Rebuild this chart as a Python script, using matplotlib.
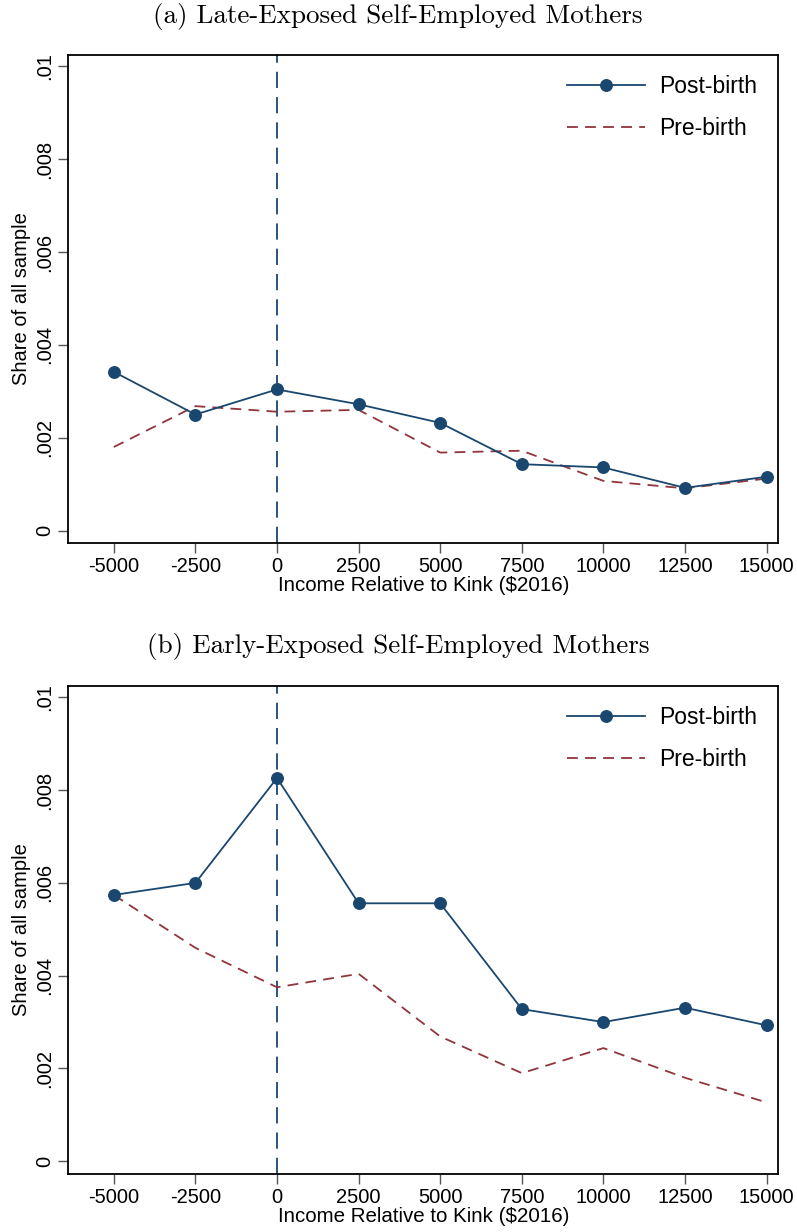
import matplotlib
matplotlib.use("Agg")
import matplotlib.pyplot as plt
import numpy as np

# ---- data ----
income_bins = [-5000, -2500, 0, 2500, 5000, 7500, 10000, 12500, 15000]
x_tick_labels = ["-5000", "-2500", "0", "2500", "5000", "7500", "10000", "12500", "15000"]
y_ticks = [0, 0.002, 0.004, 0.006, 0.008, 0.01]
y_tick_labels = ["0", ".002", ".004", ".006", ".008", ".01"]

late_post = [0.00342, 0.00250, 0.00304, 0.00272, 0.00232, 0.00143, 0.00136, 0.00092, 0.00116]
late_pre = [0.00180, 0.00268, 0.00256, 0.00260, 0.00168, 0.00172, 0.00107, 0.00091, 0.00112]

early_post = [0.00574, 0.00600, 0.00826, 0.00556, 0.00556, 0.00328, 0.00300, 0.00331, 0.00293]
early_pre = [0.00574, 0.00460, 0.00375, 0.00404, 0.00269, 0.00190, 0.00244, 0.00180, 0.00127]

titles = ["(a) Late-Exposed Self-Employed Mothers", "(b) Early-Exposed Self-Employed Mothers"]
x_label = "Income Relative to Kink ($2016)"
y_label = "Share of all sample"
legend_labels = ["Post-birth", "Pre-birth"]
kink = 0

NAVY = "#1a476f"
MAROON = "#90353b"

W, H = 797, 1232
fig = plt.figure(figsize=(W / 100, H / 100), dpi=100)

regular = ["Liberation Sans", "DejaVu Sans"]


def px_axes(left, top, right, bottom):
    return [left / W, 1 - bottom / H, (right - left) / W, (bottom - top) / H]


panels = [
    (px_axes(68.3, 54.7, 778.3, 543.3), late_post, late_pre, 17),
    (px_axes(68.3, 685.7, 778.3, 1174), early_post, early_pre, 647),
]

for i, (rect, post, pre, title_y) in enumerate(panels):
    ax = fig.add_axes(rect)
    ax.axvline(kink, color=NAVY, lw=1.3, ls=(0, (9, 5)), zorder=1)
    ax.plot(income_bins, pre, color=MAROON, lw=1.3, ls=(0, (6, 4)), label=legend_labels[1], zorder=2)
    ax.plot(income_bins, post, color=NAVY, lw=1.3, marker="o", ms=8.3, label=legend_labels[0], zorder=3)
    ax.set_xlim(-6394, 15358)
    ax.set_ylim(-0.000274, 0.01025)
    ax.set_xticks(income_bins)
    ax.set_xticklabels(x_tick_labels, fontfamily=regular, fontsize=14.5)
    ax.set_yticks(y_ticks)
    ax.set_yticklabels(y_tick_labels, fontfamily=regular, fontsize=14.5, rotation=90, va="center")
    ax.tick_params(axis="x", length=7, width=1.0, color="#555555", pad=3)
    ax.tick_params(axis="y", length=7, width=1.0, color="#555555", pad=3)
    for s in ax.spines.values():
        s.set_linewidth(1.3)
        s.set_color("black")
    ax.set_xlabel(x_label, fontfamily=regular, fontsize=14.8, labelpad=0)
    ax.set_ylabel(y_label, fontfamily=regular, fontsize=14.5, labelpad=3)
    handles, labels = ax.get_legend_handles_labels()
    order = [1, 0]
    ax.legend([handles[j] for j in order], [labels[j] for j in order],
              loc="upper left", bbox_to_anchor=(0.69, 0.978), frameon=False,
              prop={"family": regular, "size": 16.5}, handlelength=3.4,
              handletextpad=0.6, labelspacing=0.85, borderaxespad=0)
    fig.text(398 / W, 1 - title_y / H, titles[i], fontfamily=["cmr10", "DejaVu Serif"],
             fontsize=19.5, ha="center", va="center")

fig.savefig("out.png", dpi=100)
